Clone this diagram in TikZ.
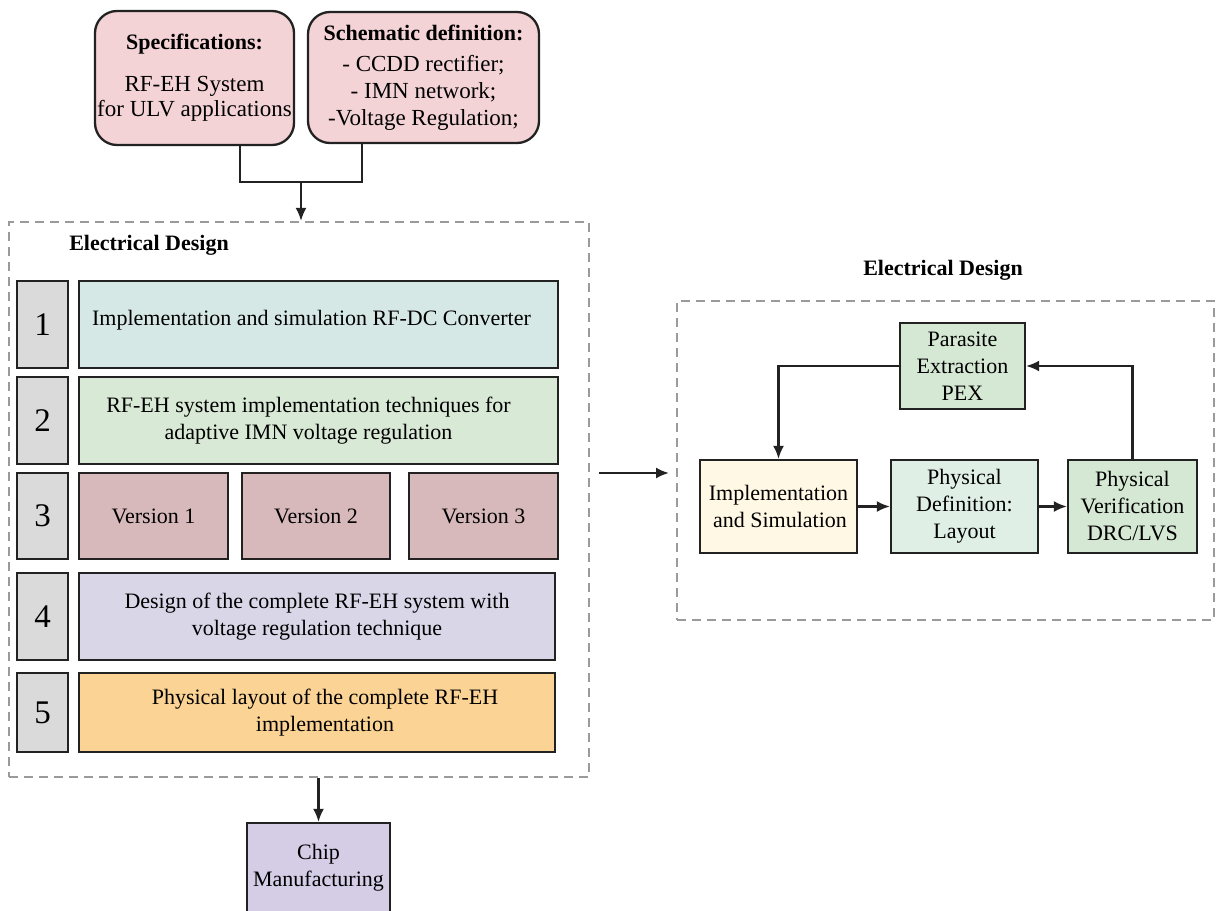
\documentclass[tikz,border=0pt]{standalone}
\usepackage{fontspec}
\setmainfont{Liberation Serif}
\usetikzlibrary{arrows.meta,calc}
\newcommand\fsz[2]{\fontsize{#1}{#2}\selectfont}
\definecolor{linec}{HTML}{222222}
\definecolor{dashc}{HTML}{9A9A9A}
\definecolor{pinkc}{HTML}{F4D3D6}
\definecolor{numc}{HTML}{DADADA}
\definecolor{tealc}{HTML}{D6E8E6}
\definecolor{greenc}{HTML}{D8E9D6}
\definecolor{verc}{HTML}{D8B9BB}
\definecolor{lilac}{HTML}{D9D6E8}
\definecolor{orangec}{HTML}{FBD495}
\definecolor{chipc}{HTML}{D5CCE6}
\definecolor{creamc}{HTML}{FFF8E4}
\definecolor{mintc}{HTML}{DFEFE6}
\definecolor{pexc}{HTML}{D5E8D4}
\begin{document}
\begin{tikzpicture}[x=1pt,y=-1pt,
  box/.style={draw=linec, line width=2.3pt, inner sep=0pt, align=center,
    font=\fsz{22}{27}},
  numbox/.style={box, fill=numc, minimum width=51pt, font=\fsz{33}{36}},
  topbox/.style={box, fill=pinkc, rounded corners=22pt},
  region/.style={draw=dashc, line width=2.2pt, dash pattern=on 9pt off 6pt,
    inner sep=0pt},
  title/.style={font=\fsz{22}{26}\bfseries, inner sep=0pt},
  wire/.style={draw=linec, line width=2.1pt},
  arrow/.style={wire, -{Latex[length=13pt,width=11pt]}}]
\useasboundingbox (0,0) rectangle (1217,910);

% inputs
\node[topbox, minimum width=199pt, minimum height=134pt, font=\fsz{23}{25}]
  (spec) at (194.5,78)
  {{\fsz{22}{25}\bfseries Specifications:}\\[17pt]
   RF-EH System\\for ULV applications};
\node[topbox, minimum width=231pt, minimum height=131pt, font=\fsz{23}{27}]
  (schem) at (423.5,77.5)
  {{\fsz{22}{27}\bfseries Schematic definition:}\\[4pt]
   - CCDD rectifier;\\- IMN network;\\-Voltage Regulation;};

% electrical design steps
\node[region, minimum width=580pt, minimum height=555pt] (ld) at (299,499.5) {};
\node[title] (ldtitle) at (149,245) {Electrical Design};

\coordinate (join) at (301,182);
\coordinate (specout) at ([xshift=45.5pt]spec.south);
\coordinate (schemout) at ([xshift=-61.5pt]schem.south);
\draw[wire] (specout) |- (join) -| (schemout);
\draw[arrow] (join) -- (join |- ld.north);

\node[numbox, minimum height=87pt] (n1) at (42.5,324.5) {1};
\node[numbox, minimum height=87pt] (n2) at (42.5,420.5) {2};
\node[numbox, minimum height=86pt] (n3) at (42.5,516) {3};
\node[numbox, minimum height=87pt] (n4) at (42.5,616.5) {4};
\node[numbox, minimum height=79pt] (n5) at (42.5,712.5) {5};

\node[box, fill=tealc, minimum width=479pt, minimum height=87pt] (s1) at (318.5,324.5)
  {\raisebox{14pt}{Implementation and simulation RF-DC Converter}\hspace*{14pt}};
\node[box, fill=greenc, minimum width=479pt, minimum height=87pt] (s2) at (318.5,420.5)
  {RF-EH system implementation techniques for\hspace*{20pt}\\adaptive IMN voltage regulation\hspace*{20pt}};
\node[box, fill=verc, minimum width=149pt, minimum height=86pt] (v1) at (153.5,516) {Version 1};
\node[box, fill=verc, minimum width=148pt, minimum height=86pt] (v2) at (316,516) {Version 2};
\node[box, fill=verc, minimum width=149pt, minimum height=86pt] (v3) at (483.5,516) {Version 3};
\node[box, fill=lilac, minimum width=476pt, minimum height=87pt] (s4) at (317,616.5)
  {Design of the complete RF-EH system with\\voltage regulation technique};
\node[box, fill=orangec, minimum width=476pt, minimum height=79pt] (s5) at (317,712.5)
  {\hspace*{16pt}Physical layout of the complete RF-EH\\\hspace*{16pt}implementation};

% manufacturing
\node[box, fill=chipc, minimum width=143pt, minimum height=90pt] (chip) at (318.5,868)
  {Chip\\Manufacturing};
\draw[arrow] (ld.south -| chip.north) -- (chip.north);

% physical design loop
\node[region, minimum width=537pt, minimum height=319pt] (rd) at (945.5,460.5) {};
\node[title] (rdtitle) at (943,270) {Electrical Design};

\coordinate (hout) at (599,473);
\coordinate (hin) at (669,473);
\draw[arrow] (hout) -- (hin);

\node[box, fill=pexc, minimum width=125pt, minimum height=86pt] (pex) at (962.5,366)
  {Parasite\\Extraction\\PEX};
\node[box, fill=creamc, minimum width=157pt, minimum height=93pt] (imp) at (778.5,506.5)
  {Implementation\\\hspace*{3pt}and Simulation};
\node[box, fill=mintc, minimum width=147pt, minimum height=93pt] (def) at (964.5,506.5)
  {Physical\\Definition:\\Layout};
\node[box, fill=pexc, minimum width=129pt, minimum height=93pt] (ver) at (1132.5,506.5)
  {Physical\\Verification\\DRC/LVS};

\draw[arrow] (imp) -- (def);
\draw[arrow] (def) -- (ver);
\draw[arrow] (ver.north) |- (pex.east);
\draw[arrow] (pex.west) -| (imp.north);
\end{tikzpicture}
\end{document}
